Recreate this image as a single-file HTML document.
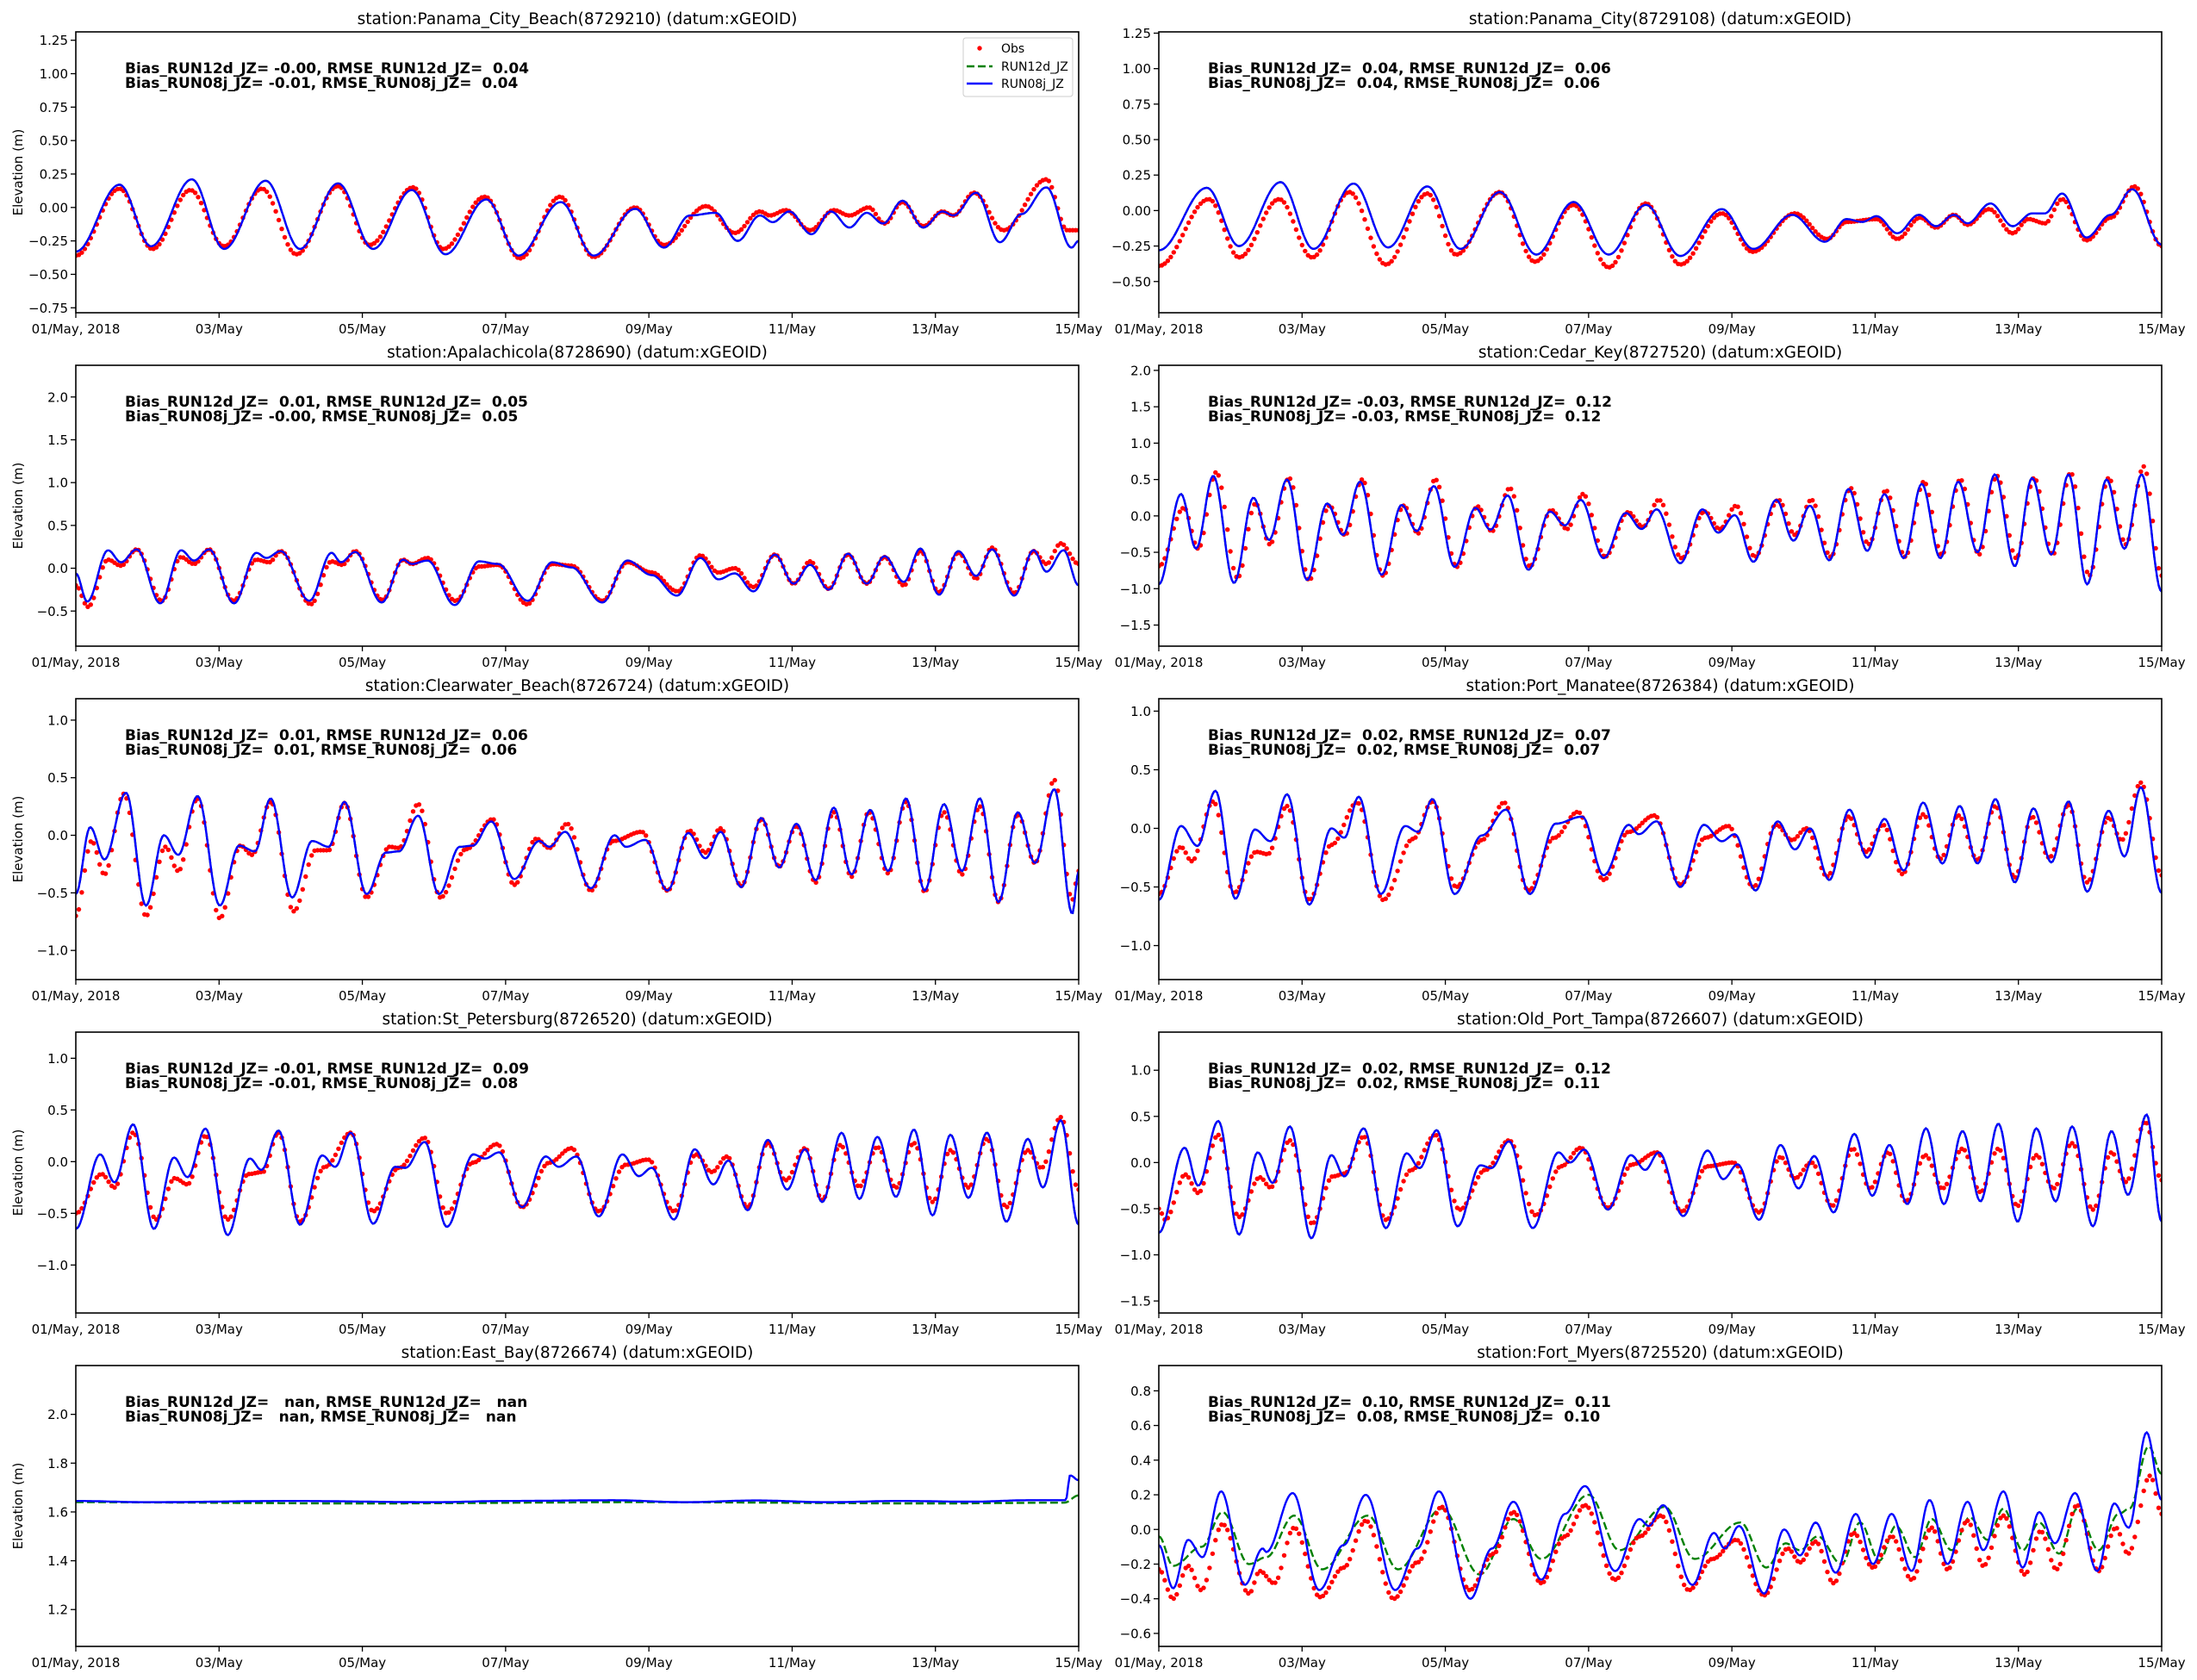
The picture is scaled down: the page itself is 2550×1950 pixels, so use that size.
<!DOCTYPE html>
<html><head><meta charset="utf-8">
<style>
html,body{margin:0;padding:0;background:#fff;}
svg{display:block;font-family:"DejaVu Sans","Liberation Sans",sans-serif;}
.pre{white-space:pre;}
</style></head>
<body>
<svg id="fig" xmlns="http://www.w3.org/2000/svg" width="2550" height="1950" viewBox="0 0 2550 1950">
<rect width="2550" height="1950" fill="#fff"/>
</svg>
<script>
const xTickLabels = ["01/May, 2018","03/May","05/May","07/May","09/May","11/May","13/May","15/May"];
const xTickDays = [0,2,4,6,8,10,12,14];

const pcbModel = [[0,-0.33],[0.61,0.17],[1.05,-0.29],[1.62,0.21],[2.07,-0.31],[2.65,0.2],[3.13,-0.31],[3.66,0.18],[4.15,-0.31],[4.69,0.13],[5.16,-0.35],[5.73,0.06],[6.18,-0.36],[6.77,0.04],[7.23,-0.36],[7.81,-0.01],[8.21,-0.3],[8.57,-0.06],[8.93,-0.04],[9.24,-0.25],[9.55,-0.06],[9.73,-0.11],[9.96,-0.03],[10.27,-0.2],[10.54,-0.03],[10.8,-0.15],[11.04,-0.04],[11.27,-0.12],[11.54,0.05],[11.83,-0.15],[12.1,-0.03],[12.25,-0.06],[12.57,0.11],[12.9,-0.26],[13.2,-0.05],[13.55,0.15],[13.9,-0.3],[14,-0.25]];
const pcbObs = [[0,-0.36],[0.61,0.14],[1.07,-0.31],[1.6,0.13],[2.07,-0.29],[2.6,0.14],[3.08,-0.35],[3.66,0.16],[4.1,-0.28],[4.71,0.15],[5.13,-0.31],[5.71,0.08],[6.2,-0.38],[6.76,0.08],[7.23,-0.37],[7.81,0.0],[8.21,-0.28],[8.8,0.01],[9.2,-0.19],[9.55,-0.03],[9.69,-0.06],[9.91,-0.02],[10.25,-0.17],[10.58,-0.02],[10.8,-0.06],[11.07,0.0],[11.29,-0.12],[11.54,0.04],[11.83,-0.14],[12.1,-0.03],[12.25,-0.06],[12.54,0.11],[12.95,-0.17],[13.55,0.21],[13.84,-0.17],[14,-0.17]];

const pcModel = [[0,-0.28],[0.67,0.16],[1.12,-0.25],[1.7,0.2],[2.16,-0.27],[2.72,0.19],[3.2,-0.26],[3.75,0.17],[4.21,-0.27],[4.76,0.13],[5.27,-0.31],[5.79,0.06],[6.28,-0.31],[6.8,0.04],[7.28,-0.32],[7.86,0.01],[8.3,-0.27],[8.84,-0.03],[9.3,-0.22],[9.6,-0.06],[9.82,-0.08],[10.02,-0.04],[10.31,-0.16],[10.61,-0.03],[10.85,-0.11],[11.1,-0.03],[11.29,-0.09],[11.61,0.05],[11.92,-0.11],[12.19,-0.02],[12.37,-0.02],[12.61,0.12],[12.95,-0.19],[13.29,-0.03],[13.59,0.15],[14,-0.24]];
const pcObs = [[0,-0.39],[0.7,0.08],[1.12,-0.33],[1.68,0.08],[2.14,-0.33],[2.66,0.13],[3.17,-0.38],[3.75,0.12],[4.15,-0.31],[4.76,0.13],[5.25,-0.36],[5.79,0.04],[6.28,-0.4],[6.8,0.05],[7.28,-0.38],[7.86,-0.02],[8.29,-0.29],[8.88,-0.02],[9.33,-0.2],[9.6,-0.08],[10.02,-0.06],[10.31,-0.2],[10.63,-0.05],[10.85,-0.12],[11.1,-0.03],[11.29,-0.1],[11.59,0.01],[11.92,-0.16],[12.14,-0.06],[12.37,-0.09],[12.61,0.08],[12.95,-0.21],[13.29,-0.05],[13.62,0.17],[14,-0.25]];

const apaModel = [[0,-0.06],[0.16,-0.39],[0.45,0.21],[0.63,0.07],[0.85,0.22],[1.18,-0.41],[1.47,0.21],[1.65,0.09],[1.86,0.22],[2.21,-0.41],[2.52,0.18],[2.66,0.12],[2.86,0.2],[3.26,-0.38],[3.57,0.18],[3.7,0.07],[3.9,0.19],[4.27,-0.4],[4.57,0.1],[4.69,0.05],[4.91,0.09],[5.29,-0.43],[5.63,0.08],[5.89,0.05],[6.31,-0.38],[6.65,0.07],[6.92,0.01],[7.35,-0.4],[7.7,0.09],[8.04,-0.08],[8.39,-0.32],[8.72,0.12],[8.97,-0.13],[9.2,-0.06],[9.46,-0.27],[9.76,0.16],[10.02,-0.18],[10.25,0.04],[10.51,-0.25],[10.78,0.17],[11.04,-0.18],[11.29,0.14],[11.56,-0.16],[11.79,0.23],[12.05,-0.31],[12.32,0.2],[12.57,-0.09],[12.79,0.22],[13.1,-0.32],[13.37,0.21],[13.55,-0.04],[13.79,0.21],[14,-0.2]];
const apaObs = [[0,-0.2],[0.17,-0.45],[0.45,0.1],[0.63,0.03],[0.85,0.22],[1.2,-0.38],[1.47,0.13],[1.65,0.05],[1.86,0.22],[2.2,-0.38],[2.52,0.1],[2.7,0.07],[2.86,0.2],[3.28,-0.42],[3.57,0.08],[3.72,0.04],[3.9,0.2],[4.28,-0.37],[4.57,0.1],[4.69,0.05],[4.91,0.12],[5.3,-0.38],[5.63,0.02],[5.89,0.04],[6.3,-0.42],[6.65,0.05],[6.92,0.03],[7.35,-0.38],[7.7,0.07],[8.04,-0.05],[8.4,-0.27],[8.72,0.15],[8.97,-0.05],[9.2,0.0],[9.46,-0.22],[9.76,0.16],[10.02,-0.18],[10.25,0.08],[10.51,-0.24],[10.78,0.16],[11.04,-0.18],[11.29,0.13],[11.56,-0.2],[11.79,0.2],[12.05,-0.28],[12.32,0.18],[12.57,-0.12],[12.79,0.24],[13.1,-0.29],[13.37,0.2],[13.55,0.05],[13.75,0.29],[14,0.05]];

const ckModel = [[0,-0.94],[0.31,0.3],[0.52,-0.45],[0.76,0.55],[1.05,-0.92],[1.32,0.25],[1.54,-0.33],[1.79,0.5],[2.07,-0.88],[2.35,0.17],[2.57,-0.26],[2.81,0.47],[3.11,-0.81],[3.39,0.15],[3.6,-0.21],[3.84,0.41],[4.13,-0.7],[4.42,0.11],[4.63,-0.19],[4.87,0.28],[5.16,-0.74],[5.46,0.06],[5.67,-0.13],[5.89,0.22],[6.21,-0.58],[6.52,0.04],[6.74,-0.18],[6.95,0.09],[7.28,-0.65],[7.59,0.09],[7.81,-0.23],[8.04,0.01],[8.3,-0.63],[8.62,0.22],[8.86,-0.34],[9.09,0.14],[9.36,-0.61],[9.63,0.37],[9.89,-0.48],[10.13,0.3],[10.4,-0.58],[10.65,0.44],[10.91,-0.58],[11.16,0.47],[11.43,-0.5],[11.67,0.57],[11.95,-0.69],[12.19,0.52],[12.46,-0.53],[12.7,0.57],[12.96,-0.94],[13.23,0.5],[13.48,-0.45],[13.72,0.57],[14,-1.04]];
const ckObs = [[0,-0.69],[0.35,0.11],[0.55,-0.45],[0.8,0.6],[1.1,-0.85],[1.35,0.17],[1.55,-0.39],[1.82,0.52],[2.1,-0.88],[2.38,0.14],[2.6,-0.26],[2.84,0.5],[3.13,-0.82],[3.42,0.14],[3.62,-0.24],[3.86,0.5],[4.16,-0.7],[4.45,0.13],[4.65,-0.21],[4.9,0.38],[5.18,-0.69],[5.48,0.08],[5.7,-0.18],[5.92,0.3],[6.23,-0.56],[6.55,0.05],[6.76,-0.15],[6.98,0.22],[7.3,-0.58],[7.62,0.06],[7.83,-0.18],[8.06,0.14],[8.32,-0.56],[8.65,0.22],[8.88,-0.26],[9.11,0.22],[9.38,-0.56],[9.66,0.38],[9.91,-0.39],[10.15,0.35],[10.42,-0.56],[10.68,0.47],[10.93,-0.53],[11.19,0.5],[11.45,-0.53],[11.7,0.55],[11.97,-0.58],[12.22,0.52],[12.48,-0.53],[12.73,0.59],[12.99,-0.82],[13.26,0.52],[13.5,-0.39],[13.75,0.68],[14,-0.82]];

const cwModel = [[0,-0.51],[0.2,0.07],[0.4,-0.21],[0.7,0.37],[0.98,-0.61],[1.23,0.0],[1.43,-0.17],[1.7,0.34],[2.01,-0.61],[2.28,-0.09],[2.5,-0.14],[2.72,0.32],[3.02,-0.54],[3.3,-0.05],[3.53,-0.1],[3.75,0.29],[4.06,-0.51],[4.33,-0.15],[4.51,-0.14],[4.78,0.17],[5.07,-0.51],[5.36,-0.1],[5.54,-0.09],[5.8,0.12],[6.12,-0.38],[6.47,-0.05],[6.61,-0.1],[6.83,0.03],[7.19,-0.46],[7.52,0.0],[7.68,-0.1],[7.95,-0.04],[8.26,-0.48],[8.55,0.02],[8.79,-0.2],[9.0,0.03],[9.29,-0.45],[9.57,0.15],[9.82,-0.28],[10.06,0.1],[10.33,-0.39],[10.58,0.24],[10.83,-0.34],[11.09,0.22],[11.34,-0.31],[11.59,0.32],[11.85,-0.48],[12.12,0.27],[12.37,-0.31],[12.62,0.32],[12.88,-0.58],[13.15,0.2],[13.39,-0.24],[13.66,0.4],[13.91,-0.68],[14,-0.31]];
const cwObs = [[0,-0.7],[0.22,-0.05],[0.4,-0.34],[0.67,0.36],[0.98,-0.7],[1.25,-0.1],[1.43,-0.31],[1.7,0.32],[2.01,-0.72],[2.3,-0.09],[2.46,-0.17],[2.72,0.29],[3.04,-0.66],[3.35,-0.13],[3.53,-0.13],[3.75,0.28],[4.06,-0.54],[4.38,-0.1],[4.51,-0.11],[4.78,0.27],[5.09,-0.54],[5.45,-0.12],[5.82,0.14],[6.12,-0.43],[6.43,-0.03],[6.61,-0.11],[6.86,0.1],[7.19,-0.48],[7.5,-0.05],[7.9,0.03],[8.26,-0.48],[8.57,0.04],[8.79,-0.15],[9.0,0.06],[9.29,-0.44],[9.57,0.14],[9.82,-0.27],[10.06,0.08],[10.33,-0.41],[10.58,0.2],[10.83,-0.36],[11.07,0.2],[11.34,-0.33],[11.59,0.29],[11.85,-0.49],[12.12,0.2],[12.37,-0.34],[12.62,0.25],[12.88,-0.58],[13.15,0.18],[13.39,-0.24],[13.66,0.48],[13.91,-0.56],[14,-0.31]];

const pmModel = [[0,-0.61],[0.31,0.02],[0.54,-0.15],[0.79,0.32],[1.07,-0.6],[1.34,-0.01],[1.56,-0.11],[1.79,0.29],[2.1,-0.65],[2.41,0.0],[2.59,-0.08],[2.79,0.27],[3.1,-0.56],[3.44,0.02],[3.62,-0.03],[3.82,0.25],[4.13,-0.56],[4.51,-0.06],[4.85,0.16],[5.18,-0.56],[5.54,0.04],[5.91,0.1],[6.21,-0.4],[6.56,0.03],[6.7,-0.05],[6.95,0.06],[7.28,-0.5],[7.61,0.03],[7.86,-0.11],[8.04,-0.05],[8.33,-0.53],[8.64,0.06],[8.88,-0.18],[9.09,0.0],[9.36,-0.44],[9.64,0.16],[9.89,-0.25],[10.13,0.08],[10.4,-0.36],[10.67,0.22],[10.94,-0.3],[11.18,0.19],[11.43,-0.3],[11.68,0.25],[11.95,-0.46],[12.21,0.17],[12.46,-0.29],[12.7,0.23],[12.96,-0.54],[13.26,0.15],[13.48,-0.24],[13.71,0.35],[14,-0.55]];
const pmObs = [[0,-0.56],[0.31,-0.16],[0.46,-0.28],[0.76,0.23],[1.05,-0.55],[1.36,-0.2],[1.52,-0.22],[1.79,0.19],[2.1,-0.61],[2.41,-0.14],[2.77,0.22],[3.13,-0.61],[3.55,-0.09],[3.82,0.23],[4.15,-0.5],[4.51,-0.1],[4.82,0.22],[5.16,-0.53],[5.52,-0.08],[5.85,0.14],[6.21,-0.44],[6.56,-0.03],[6.92,0.11],[7.28,-0.48],[7.63,-0.08],[7.95,0.02],[8.3,-0.5],[8.62,0.03],[8.84,-0.1],[9.04,0.0],[9.33,-0.41],[9.63,0.1],[9.87,-0.2],[10.11,0.03],[10.38,-0.39],[10.67,0.12],[10.91,-0.26],[11.16,0.11],[11.43,-0.27],[11.68,0.19],[11.95,-0.42],[12.19,0.1],[12.43,-0.25],[12.7,0.2],[12.96,-0.46],[13.26,0.09],[13.44,-0.1],[13.71,0.39],[14,-0.4]];

const spModel = [[0,-0.65],[0.34,0.07],[0.54,-0.2],[0.8,0.36],[1.09,-0.65],[1.37,0.04],[1.56,-0.15],[1.81,0.32],[2.12,-0.71],[2.43,0.03],[2.59,-0.08],[2.83,0.3],[3.13,-0.61],[3.44,0.06],[3.62,-0.05],[3.84,0.28],[4.15,-0.6],[4.46,-0.05],[4.6,-0.06],[4.87,0.19],[5.18,-0.63],[5.55,0.07],[5.71,0.03],[5.91,0.09],[6.23,-0.44],[6.56,0.05],[6.74,-0.05],[6.99,0.05],[7.3,-0.53],[7.63,0.07],[7.86,-0.14],[8.04,-0.06],[8.35,-0.56],[8.64,0.12],[8.9,-0.22],[9.11,0.01],[9.38,-0.47],[9.66,0.21],[9.93,-0.27],[10.18,0.12],[10.42,-0.39],[10.69,0.28],[10.94,-0.36],[11.19,0.24],[11.45,-0.34],[11.7,0.31],[11.96,-0.52],[12.21,0.26],[12.46,-0.35],[12.72,0.28],[12.99,-0.58],[13.29,0.22],[13.5,-0.25],[13.75,0.4],[14,-0.61]];
const spObs = [[0,-0.5],[0.36,-0.12],[0.54,-0.25],[0.8,0.28],[1.12,-0.56],[1.38,-0.16],[1.56,-0.22],[1.81,0.25],[2.12,-0.56],[2.41,-0.12],[2.61,-0.1],[2.83,0.28],[3.13,-0.58],[3.48,-0.05],[3.84,0.28],[4.15,-0.48],[4.51,-0.06],[4.87,0.23],[5.18,-0.5],[5.54,-0.01],[5.88,0.17],[6.23,-0.44],[6.61,-0.01],[6.92,0.13],[7.3,-0.48],[7.68,-0.03],[7.99,0.02],[8.35,-0.48],[8.66,0.07],[8.88,-0.1],[9.09,0.05],[9.38,-0.44],[9.66,0.18],[9.91,-0.18],[10.18,0.13],[10.42,-0.37],[10.67,0.16],[10.94,-0.24],[11.19,0.14],[11.45,-0.25],[11.7,0.18],[11.96,-0.39],[12.21,0.11],[12.46,-0.25],[12.72,0.22],[12.99,-0.44],[13.29,0.11],[13.48,-0.06],[13.75,0.43],[14,-0.27]];

const optModel = [[0,-0.76],[0.36,0.16],[0.55,-0.25],[0.83,0.45],[1.12,-0.78],[1.38,0.11],[1.59,-0.22],[1.83,0.39],[2.13,-0.82],[2.41,0.08],[2.59,-0.15],[2.86,0.37],[3.17,-0.71],[3.46,0.1],[3.64,-0.06],[3.88,0.35],[4.17,-0.69],[4.49,-0.03],[4.64,-0.06],[4.89,0.23],[5.22,-0.71],[5.58,0.11],[5.74,0.0],[5.94,0.14],[6.27,-0.51],[6.59,0.08],[6.79,-0.08],[6.98,0.11],[7.32,-0.58],[7.66,0.13],[7.88,-0.18],[8.08,-0.02],[8.38,-0.62],[8.68,0.19],[8.93,-0.28],[9.15,0.07],[9.42,-0.54],[9.71,0.31],[9.96,-0.36],[10.2,0.19],[10.45,-0.45],[10.71,0.37],[10.96,-0.45],[11.22,0.34],[11.47,-0.42],[11.72,0.42],[11.99,-0.64],[12.25,0.37],[12.52,-0.42],[12.75,0.39],[13.04,-0.69],[13.3,0.34],[13.53,-0.35],[13.79,0.52],[14,-0.64]];
const optObs = [[0,-0.5],[0.09,-0.62],[0.37,-0.13],[0.55,-0.33],[0.83,0.3],[1.12,-0.59],[1.41,-0.16],[1.56,-0.27],[1.83,0.24],[2.14,-0.66],[2.43,-0.15],[2.59,-0.12],[2.86,0.28],[3.17,-0.62],[3.53,-0.08],[3.86,0.3],[4.2,-0.51],[4.56,-0.08],[4.89,0.24],[5.26,-0.57],[5.62,-0.04],[5.89,0.16],[6.27,-0.49],[6.61,-0.02],[6.95,0.11],[7.3,-0.53],[7.66,-0.04],[8.02,0.0],[8.38,-0.54],[8.68,0.06],[8.88,-0.17],[9.11,0.0],[9.4,-0.47],[9.69,0.15],[9.93,-0.28],[10.18,0.11],[10.43,-0.42],[10.7,0.08],[10.94,-0.28],[11.22,0.15],[11.47,-0.32],[11.72,0.15],[11.99,-0.47],[12.25,0.08],[12.49,-0.28],[12.75,0.21],[13.04,-0.51],[13.3,0.11],[13.5,-0.21],[13.77,0.44],[14,-0.19]];

const ebModel = [[0,1.645],[1,1.64],[3,1.645],[5,1.64],[6,1.645],[7.5,1.648],[8.5,1.64],[9.5,1.647],[10.5,1.64],[11.5,1.645],[12.5,1.642],[13.3,1.648],[13.82,1.648],[13.88,1.75],[14,1.73]];
const ebRun12 = [[0,1.64],[4,1.635],[8,1.64],[12,1.635],[13.8,1.638],[14,1.668]];
const ebObs = [];

const fmModel = [[0,-0.09],[0.2,-0.34],[0.41,-0.06],[0.61,-0.16],[0.87,0.22],[1.2,-0.32],[1.45,-0.11],[1.5,-0.13],[1.87,0.21],[2.24,-0.35],[2.58,-0.09],[2.89,0.2],[3.3,-0.35],[3.61,-0.11],[3.91,0.22],[4.35,-0.4],[4.65,-0.11],[4.95,0.16],[5.34,-0.29],[5.67,0.09],[5.95,0.25],[6.37,-0.24],[6.71,0.06],[6.84,0.02],[7.04,0.14],[7.45,-0.32],[7.75,-0.02],[7.9,-0.11],[8.1,0.02],[8.45,-0.37],[8.73,0.0],[8.95,-0.15],[9.17,0.04],[9.45,-0.25],[9.73,0.09],[9.97,-0.2],[10.23,0.09],[10.51,-0.24],[10.76,0.17],[11.01,-0.2],[11.29,0.16],[11.51,-0.12],[11.79,0.22],[12.06,-0.22],[12.29,0.1],[12.51,-0.08],[12.79,0.21],[13.1,-0.24],[13.34,0.15],[13.54,0.01],[13.79,0.56],[14,0.17]];
const fmRun12 = [[0,-0.04],[0.2,-0.21],[0.6,-0.1],[0.89,0.1],[1.26,-0.2],[1.5,-0.16],[1.89,0.08],[2.28,-0.23],[2.92,0.08],[3.34,-0.23],[3.95,0.12],[4.48,-0.26],[4.95,0.06],[5.34,-0.17],[6.0,0.2],[6.43,-0.12],[7.06,0.13],[7.48,-0.17],[8.12,0.04],[8.48,-0.22],[8.75,-0.08],[8.95,-0.12],[9.2,-0.04],[9.53,-0.2],[9.79,0.04],[10.06,-0.18],[10.29,0.02],[10.56,-0.16],[10.79,0.06],[11.07,-0.12],[11.32,0.07],[11.57,-0.06],[11.79,0.12],[12.06,-0.12],[12.29,0.04],[12.57,-0.14],[12.82,0.12],[13.12,-0.12],[13.4,0.09],[13.55,0.12],[13.82,0.48],[14,0.32]];
const fmObs = [[0,-0.23],[0.2,-0.4],[0.41,-0.21],[0.59,-0.35],[0.89,0.03],[1.26,-0.37],[1.41,-0.24],[1.61,-0.31],[1.89,0.01],[2.25,-0.39],[2.58,-0.22],[2.89,0.05],[3.28,-0.4],[3.61,-0.19],[3.95,0.13],[4.34,-0.35],[4.67,-0.14],[4.95,0.1],[5.34,-0.31],[5.67,-0.04],[5.95,0.14],[6.37,-0.29],[6.71,-0.04],[7.01,0.08],[7.4,-0.35],[7.73,-0.17],[8.06,-0.06],[8.45,-0.38],[8.78,-0.11],[8.95,-0.19],[9.17,-0.07],[9.42,-0.31],[9.7,-0.02],[9.97,-0.22],[10.23,-0.04],[10.51,-0.29],[10.79,0.01],[11.01,-0.23],[11.29,0.05],[11.51,-0.21],[11.79,0.08],[12.09,-0.26],[12.31,-0.01],[12.53,-0.23],[12.82,0.14],[13.12,-0.24],[13.36,0.01],[13.53,-0.14],[13.84,0.31],[14,0.09]];

const W = 1164, H = 326;
const colX = [88, 1345];
const rowY = [37, 424, 811, 1198, 1585];
const panels = [
 {title:"station:Panama_City_Beach(8729210) (datum:xGEOID)", col:0,row:0, ymin:-0.787, ymax:1.3125, ticks:[-0.75,-0.5,-0.25,0,0.25,0.5,0.75,1.0,1.25], dec:2, obs:pcbObs, r12:pcbModel, r08:pcbModel, s:["Bias_RUN12d_JZ= -0.00, RMSE_RUN12d_JZ=  0.04","Bias_RUN08j_JZ= -0.01, RMSE_RUN08j_JZ=  0.04"], legend:true, ylab:true},
 {title:"station:Panama_City(8729108) (datum:xGEOID)", col:1,row:0, ymin:-0.72, ymax:1.259, ticks:[-0.5,-0.25,0,0.25,0.5,0.75,1.0,1.25], dec:2, obs:pcObs, r12:pcModel, r08:pcModel, s:["Bias_RUN12d_JZ=  0.04, RMSE_RUN12d_JZ=  0.06","Bias_RUN08j_JZ=  0.04, RMSE_RUN08j_JZ=  0.06"]},
 {title:"station:Apalachicola(8728690) (datum:xGEOID)", col:0,row:1, ymin:-0.91, ymax:2.37, ticks:[-0.5,0,0.5,1.0,1.5,2.0], dec:1, obs:apaObs, r12:apaModel, r08:apaModel, s:["Bias_RUN12d_JZ=  0.01, RMSE_RUN12d_JZ=  0.05","Bias_RUN08j_JZ= -0.00, RMSE_RUN08j_JZ=  0.05"], ylab:true},
 {title:"station:Cedar_Key(8727520) (datum:xGEOID)", col:1,row:1, ymin:-1.79, ymax:2.07, ticks:[-1.5,-1.0,-0.5,0,0.5,1.0,1.5,2.0], dec:1, obs:ckObs, r12:ckModel, r08:ckModel, s:["Bias_RUN12d_JZ= -0.03, RMSE_RUN12d_JZ=  0.12","Bias_RUN08j_JZ= -0.03, RMSE_RUN08j_JZ=  0.12"]},
 {title:"station:Clearwater_Beach(8726724) (datum:xGEOID)", col:0,row:2, ymin:-1.253, ymax:1.186, ticks:[-1.0,-0.5,0,0.5,1.0], dec:1, obs:cwObs, r12:cwModel, r08:cwModel, s:["Bias_RUN12d_JZ=  0.01, RMSE_RUN12d_JZ=  0.06","Bias_RUN08j_JZ=  0.01, RMSE_RUN08j_JZ=  0.06"], ylab:true},
 {title:"station:Port_Manatee(8726384) (datum:xGEOID)", col:1,row:2, ymin:-1.29, ymax:1.106, ticks:[-1.0,-0.5,0,0.5,1.0], dec:1, obs:pmObs, r12:pmModel, r08:pmModel, s:["Bias_RUN12d_JZ=  0.02, RMSE_RUN12d_JZ=  0.07","Bias_RUN08j_JZ=  0.02, RMSE_RUN08j_JZ=  0.07"]},
 {title:"station:St_Petersburg(8726520) (datum:xGEOID)", col:0,row:3, ymin:-1.464, ymax:1.253, ticks:[-1.0,-0.5,0,0.5,1.0], dec:1, obs:spObs, r12:spModel, r08:spModel, s:["Bias_RUN12d_JZ= -0.01, RMSE_RUN12d_JZ=  0.09","Bias_RUN08j_JZ= -0.01, RMSE_RUN08j_JZ=  0.08"], ylab:true},
 {title:"station:Old_Port_Tampa(8726607) (datum:xGEOID)", col:1,row:3, ymin:-1.63, ymax:1.413, ticks:[-1.5,-1.0,-0.5,0,0.5,1.0], dec:1, obs:optObs, r12:optModel, r08:optModel, s:["Bias_RUN12d_JZ=  0.02, RMSE_RUN12d_JZ=  0.12","Bias_RUN08j_JZ=  0.02, RMSE_RUN08j_JZ=  0.11"]},
 {title:"station:East_Bay(8726674) (datum:xGEOID)", col:0,row:4, ymin:1.049, ymax:2.2, ticks:[1.2,1.4,1.6,1.8,2.0], dec:1, obs:ebObs, r12:ebRun12, r08:ebModel, s:["Bias_RUN12d_JZ=   nan, RMSE_RUN12d_JZ=   nan","Bias_RUN08j_JZ=   nan, RMSE_RUN08j_JZ=   nan"], ylab:true},
 {title:"station:Fort_Myers(8725520) (datum:xGEOID)", col:1,row:4, ymin:-0.675, ymax:0.946, ticks:[-0.6,-0.4,-0.2,0,0.2,0.4,0.6,0.8], dec:1, obs:fmObs, r12:fmRun12, r08:fmModel, s:["Bias_RUN12d_JZ=  0.10, RMSE_RUN12d_JZ=  0.11","Bias_RUN08j_JZ=  0.08, RMSE_RUN08j_JZ=  0.10"]}
];

const NS = "http://www.w3.org/2000/svg";
const svg = document.getElementById("fig");
function mk(tag, attrs, parent){ const e=document.createElementNS(NS,tag); for(const k in attrs) e.setAttribute(k,attrs[k]); (parent||svg).appendChild(e); return e; }

function evalSeries(ext, d){
  if(!ext.length) return null;
  if(d<=ext[0][0]) return ext[0][1];
  for(let i=0;i<ext.length-1;i++){
    const a=ext[i], b=ext[i+1];
    if(d>=a[0] && d<=b[0]){
      const t=(d-a[0])/(b[0]-a[0]||1);
      return a[1]+(b[1]-a[1])*(1-Math.cos(Math.PI*t))/2;
    }
  }
  return ext[ext.length-1][1];
}
function fmt(v,dec){ const s=Math.abs(v).toFixed(dec); return (v< -1e-9?"\u2212":"")+s; }

panels.forEach((p,pi)=>{
  const L=colX[p.col], T=rowY[p.row];
  const xs = d => L + d/14*W;
  const ys = v => T + (p.ymax - v)/(p.ymax - p.ymin)*H;
  const g = mk("g",{});
  
  

  const clipId="clip"+pi;
  const cp = mk("clipPath",{id:clipId},g);
  mk("rect",{x:L,y:T,width:W,height:H},cp);

  const title = mk("text",{x:L+W/2,y:T-9,"text-anchor":"middle","font-size":"18.5"},g);
  title.textContent=p.title;
  
  

  const plot = mk("g",{"clip-path":"url(#"+clipId+")"},g);
  let d12="";
  for(let k=0;k<=14*48;k++){ const d=k/48; d12+=(k?"L":"M")+xs(d).toFixed(1)+" "+ys(evalSeries(p.r12,d)).toFixed(1); }
  const gl = mk("path",{d:d12,fill:"none",stroke:"#008000","stroke-width":"2.4","stroke-dasharray":"9,4"},plot);
  
  
  if(p.obs.length){
    const og = mk("g",{fill:"#ff0000"},plot);
    
    
    for(let k=0;k<=14*24;k++){ const d=k/24; mk("circle",{cx:xs(d).toFixed(1),cy:ys(evalSeries(p.obs,d)).toFixed(1),r:"2.7"},og); }
  }
  let d08="";
  for(let k=0;k<=14*48;k++){ const d=k/48; d08+=(k?"L":"M")+xs(d).toFixed(1)+" "+ys(evalSeries(p.r08,d)).toFixed(1); }
  const bl = mk("path",{d:d08,fill:"none",stroke:"#0000ff","stroke-width":"2.4"},plot);
  
  

  const fr = mk("rect",{x:L,y:T,width:W,height:H,fill:"none",stroke:"#000","stroke-width":"1.6"},g);
  
  

  xTickDays.forEach((d,i)=>{
    const x=xs(d);
    mk("line",{x1:x,y1:T+H,x2:x,y2:T+H+6,stroke:"#000","stroke-width":"1.3"},g);
    const t=mk("text",{x:x,y:T+H+24,"text-anchor":"middle","font-size":"15"},g);
    t.textContent=xTickLabels[i];
    
    
  });
  p.ticks.forEach(v=>{
    const y=ys(v);
    mk("line",{x1:L-6,y1:y,x2:L,y2:y,stroke:"#000","stroke-width":"1.3"},g);
    const t=mk("text",{x:L-9,y:y+5.5,"text-anchor":"end","font-size":"15"},g);
    t.textContent=fmt(v,p.dec);
    
    
  });
  if(p.ylab){
    const yl=mk("text",{x:0,y:0,"text-anchor":"middle","font-size":"15",transform:"translate(26,"+(T+H/2)+") rotate(-90)"},g);
    yl.textContent="Elevation (m)";
    
    
  }
  p.s.forEach((line,i)=>{
    const t=mk("text",{x:L+57,y:T+48+i*17,"font-size":"17","font-weight":"bold","class":"pre"},g);
    t.textContent=line;
    
    
  });
  if(p.legend){
    const lg=mk("g",{},g);
    
    
    mk("rect",{x:1118,y:44,width:127,height:68,rx:3,fill:"#fff","fill-opacity":"0.8",stroke:"#ccc","stroke-width":"1"},lg);
    mk("circle",{cx:1137,cy:56,r:2.7,fill:"#ff0000"},lg);
    mk("line",{x1:1122,y1:77,x2:1152,y2:77,stroke:"#008000","stroke-width":"2.4","stroke-dasharray":"9,4"},lg);
    mk("line",{x1:1122,y1:97,x2:1152,y2:97,stroke:"#0000ff","stroke-width":"2.4"},lg);
    [["Obs",61,'legend-entry-obs'],["RUN12d_JZ",82,'legend-entry-run12d'],["RUN08j_JZ",102,'legend-entry-run08j']].forEach(e=>{
      const t=mk("text",{x:1162,y:e[1],"font-size":"14"},lg);
      t.textContent=e[0];
      
      
    });
  }
});
</script>
</body></html>
